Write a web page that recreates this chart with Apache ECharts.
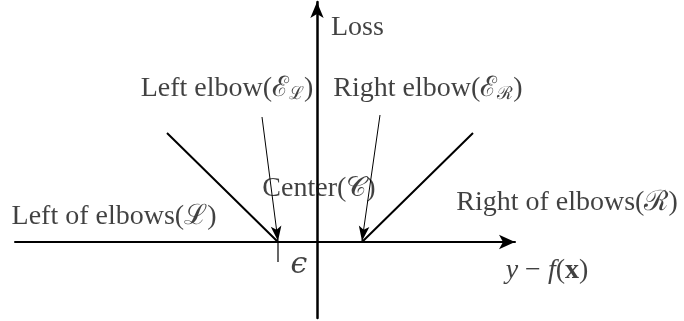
<!DOCTYPE html>
<html>
<head>
<meta charset="utf-8">
<script src="https://cdn.jsdelivr.net/npm/echarts@6/dist/echarts.min.js"></script>
<style>
  html, body { margin: 0; padding: 0; background: #fff; }
  #main { width: 684px; height: 321px; }
</style>
</head>
<body>
<div id="main"></div>
<script>
// axis extents (data units, origin where the two axes cross)
const xRange = [-30.2, 19.8]
const yRange = [-7.6, 24.0]

// epsilon-insensitive loss: left branch, flat centre, right branch
const lossX = [-15, -3.9, 4.5, 15.6]
const lossY = [10.9, 0, 0, 10.9]

// pointer arrows [from, to]
const pointers = [
  [[-5.5, 12.5], [-3.9, 0.1]],
  [[6.3, 12.7], [4.5, 0.1]]
]
// small mark under the left elbow
const epsTick = [[-3.9, 0], [-3.9, -2.0]]

// text labels: [x, y, rich text, align]
const labels = [
  [1.4, 21.4, '{t|Loss}', 'left'],
  [-9.0, 15.3, '{t|Left elbow(}{s|ℰ}{sub|ℒ}{t|)}', 'center'],
  [11.1, 15.3, '{t|Right elbow(}{s|ℰ}{sub|ℛ}{t|)}', 'center'],
  [0.2, 5.3, '{t|Center(}{s|𝒞}{t|)}', 'center'],
  [-20.3, 2.5, '{t|Left of elbows(}{s|ℒ}{t|)}', 'center'],
  [25.0, 3.9, '{t|Right of elbows(}{s|ℛ}{t|)}', 'center'],
  [-1.8, -2.3, '{e|ϵ}', 'center'],
  [23.0, -2.9, '{i|y}{t| − }{i|f}{t|(}{b|x}{t|)}', 'center']
]

const chart = echarts.init(document.getElementById('main'))

const serif = '"Liberation Serif", "DejaVu Serif", serif'
const rich = {
  t: { fontFamily: serif, fontSize: 28, color: '#111' },
  i: { fontFamily: serif, fontSize: 28, fontStyle: 'italic', color: '#111' },
  b: { fontFamily: serif, fontSize: 28, fontWeight: 'bold', color: '#111' },
  s: { fontFamily: serif, fontSize: 28, color: '#111' },
  e: { fontFamily: '"DejaVu Serif", serif', fontSize: 30, fontStyle: 'italic', color: '#111' },
  sub: { fontFamily: serif, fontSize: 18, color: '#111', padding: [10, 0, 0, 0] }
}

chart.setOption({
  backgroundColor: '#fff',
  animation: false,
  grid: { left: 15, right: 169, top: 2, bottom: 3 },
  xAxis: {
    type: 'value',
    min: xRange[0],
    max: xRange[1],
    splitLine: { show: false },
    axisTick: { show: false },
    axisLabel: { show: false },
    axisLine: {
      onZero: true,
      symbol: ['none', 'arrow'],
      symbolSize: [11, 16],
      symbolOffset: [0, 0],
      lineStyle: { color: '#000', width: 2 }
    }
  },
  yAxis: {
    type: 'value',
    min: yRange[0],
    max: yRange[1],
    splitLine: { show: false },
    axisTick: { show: false },
    axisLabel: { show: false },
    axisLine: {
      onZero: true,
      symbol: ['none', 'arrow'],
      symbolSize: [10, 16],
      symbolOffset: [0, 0],
      lineStyle: { color: '#000', width: 2.5 }
    }
  },
  series: [
    {
      type: 'line',
      data: lossX.map((x, i) => [x, lossY[i]]),
      showSymbol: false,
      lineStyle: { color: '#000', width: 2 },
      markLine: {
        silent: true,
        symbol: ['none', 'arrow'],
        symbolSize: [8, 15],
        label: { show: false },
        lineStyle: { color: '#000', width: 1, type: 'solid' },
        data: pointers.map(p => [{ coord: p[0] }, { coord: p[1] }])
      }
    },
    {
      type: 'line',
      data: epsTick,
      showSymbol: false,
      lineStyle: { color: '#000', width: 1.2 }
    },
    {
      type: 'scatter',
      clip: false,
      symbolSize: 1,
      itemStyle: { color: 'transparent' },
      data: labels.map(l => ({
        value: [l[0], l[1]],
        label: {
          show: true,
          position: 'inside',
          align: l[3],
          verticalAlign: 'middle',
          formatter: l[2],
          rich: rich
        }
      }))
    }
  ]
})
</script>
</body>
</html>
